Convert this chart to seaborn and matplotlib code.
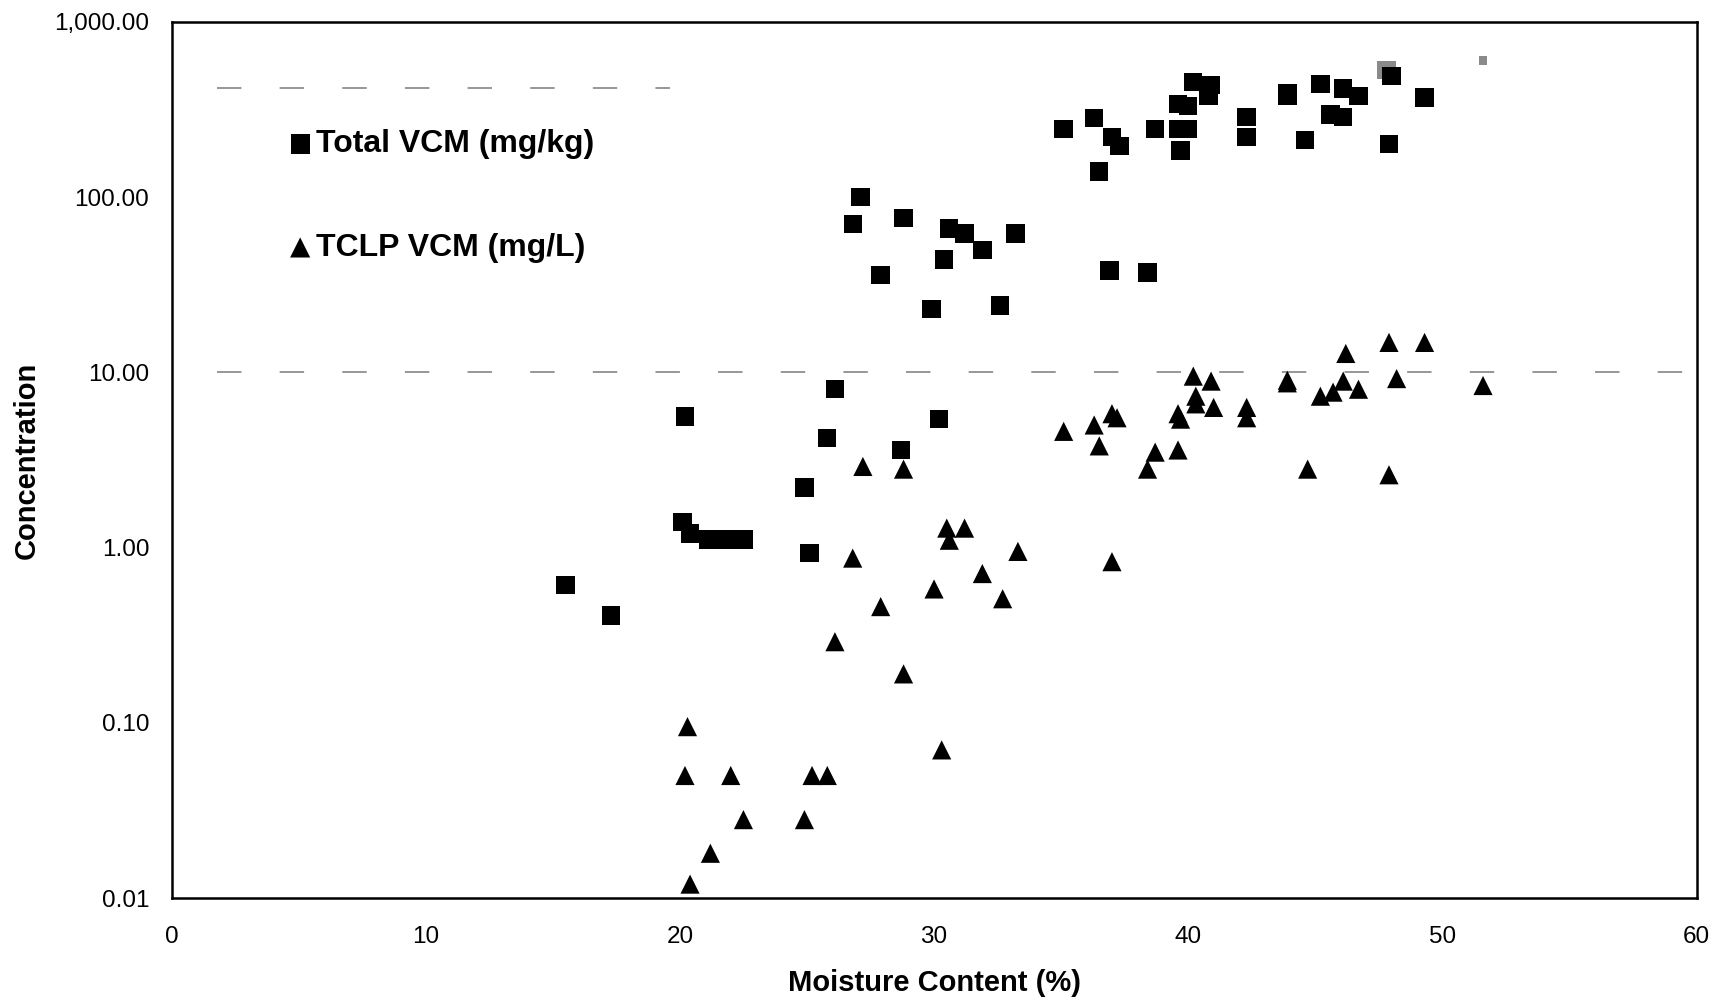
import numpy as np
import pandas as pd
import seaborn as sb
import matplotlib.pyplot as plt
from matplotlib.ticker import FuncFormatter

# ---- data ----
moist_total = [15.5, 17.3, 20.2, 20.1, 20.4, 21.1, 21.8, 22.5, 24.9, 25.1, 25.8, 26.1,
               26.8, 27.1, 27.9, 28.7, 28.8, 29.9, 30.2, 30.4, 30.6, 31.2, 31.9, 32.6,
               33.2, 35.1, 36.3, 36.5, 37.0, 37.3, 36.9, 38.4, 38.7, 39.6, 39.6, 39.7,
               40.0, 40.0, 40.2, 40.9, 40.8, 42.3, 42.3, 43.9, 43.9, 44.6, 45.2, 45.6,
               46.1, 46.1, 46.7, 47.9, 48.0, 49.3]
total_vcm = [0.61, 0.41, 5.6, 1.40, 1.2, 1.11, 1.11, 1.11, 2.2, 0.93, 4.2, 8.0,
             70, 100, 36, 3.6, 76, 23, 5.4, 44, 66, 62, 50, 24,
             62, 244, 282, 140, 220, 196, 38, 37, 244, 340, 244, 184,
             244, 330, 453, 434, 376, 285, 220, 393, 380, 212, 440, 295,
             416, 287, 376, 200, 490, 370]
# faint (half-tone) squares near the top
moist_faint = [47.8, 51.6]
total_faint = [530, 600]

moist_tclp = [20.3, 20.2, 20.4, 21.2, 22.0, 22.5, 24.9, 25.2, 25.8, 26.1, 26.8, 27.2,
              27.9, 28.8, 28.8, 30.0, 30.3, 30.5, 30.6, 31.2, 31.9, 32.7, 33.3, 35.1,
              36.3, 36.5, 37.0, 37.2, 37.0, 38.4, 38.7, 39.6, 39.6, 39.7, 40.2, 40.3,
              40.3, 40.9, 41.0, 42.3, 42.3, 43.9, 43.9, 44.7, 45.2, 45.7, 46.2, 46.1,
              46.7, 47.9, 47.9, 48.2, 49.3, 51.6]
tclp_vcm = [0.095, 0.05, 0.012, 0.018, 0.05, 0.028, 0.028, 0.05, 0.05, 0.29, 0.87, 2.9,
            0.46, 0.19, 2.8, 0.58, 0.07, 1.29, 1.1, 1.29, 0.71, 0.51, 0.95, 4.6,
            5.0, 3.8, 5.8, 5.5, 0.83, 2.8, 3.5, 3.6, 5.8, 5.4, 9.5, 7.3,
            6.6, 8.9, 6.3, 6.3, 5.5, 9.0, 8.7, 2.8, 7.3, 7.7, 12.8, 8.9,
            8.0, 14.8, 2.6, 9.2, 14.8, 8.4]

ref_levels = [10, 420]
ref_ends = [60, 19.6]

labels = ["Total VCM (mg/kg)", "TCLP VCM (mg/L)"]

df_total = pd.DataFrame({"moisture": moist_total, "conc": total_vcm})
df_tclp = pd.DataFrame({"moisture": moist_tclp, "conc": tclp_vcm})

sb.set_style("white")
plt.rcParams['font.family'] = ['Liberation Sans', 'DejaVu Sans']
for k in ["text.color", "axes.labelcolor", "xtick.color", "ytick.color"]:
    plt.rcParams[k] = "black"

fig = plt.figure(figsize=(17.14, 9.98), dpi=100)
ax = fig.add_axes([0.1001, 0.1002, 0.8897, 0.878])

for lvl, xe in zip(ref_levels, ref_ends):
    ax.plot([1.8, xe], [lvl, lvl], color="#7a7a7a", lw=1.1,
            linestyle=(0, (16, 25)), zorder=1)

sb.scatterplot(data=df_total, x="moisture", y="conc", marker="s", s=175,
               color="black", edgecolor="none", ax=ax, label=labels[0], zorder=3)
sb.scatterplot(data=df_tclp, x="moisture", y="conc", marker="^", s=190,
               color="black", edgecolor="none", ax=ax, label=labels[1], zorder=3)
ax.scatter(moist_faint, total_faint, marker="s", s=[175, 40], color="#8a8a8a",
           edgecolor="none", zorder=2)

ax.set_yscale("log")
ax.set_xlim(0, 60)
ax.set_ylim(0.01, 1000)
ax.set_xticks(range(0, 61, 10))
ax.set_yticks([0.01, 0.1, 1, 10, 100, 1000])
ax.yaxis.set_major_formatter(FuncFormatter(lambda v, p: "{:,.2f}".format(v)))
ax.minorticks_off()
ax.tick_params(axis="y", direction="out", length=4, width=1, pad=12, labelsize=17.5)
ax.tick_params(axis="x", length=0, pad=20, labelsize=17.5)

for sp in ax.spines.values():
    sp.set_color("black")
    sp.set_linewidth(1.8)

ax.set_xlabel("Moisture Content (%)", fontsize=21, fontweight="bold", labelpad=15)
ax.set_ylabel("Concentration", fontsize=21, fontweight="bold", labelpad=10)

leg = ax.legend(loc="upper left", bbox_to_anchor=(0.055, 0.91), frameon=False,
                prop={"size": 23, "weight": "bold"}, labelspacing=2.3,
                handletextpad=0.0, handlelength=1.0, markerscale=1.05)

fig.savefig("out.png", dpi=100)
